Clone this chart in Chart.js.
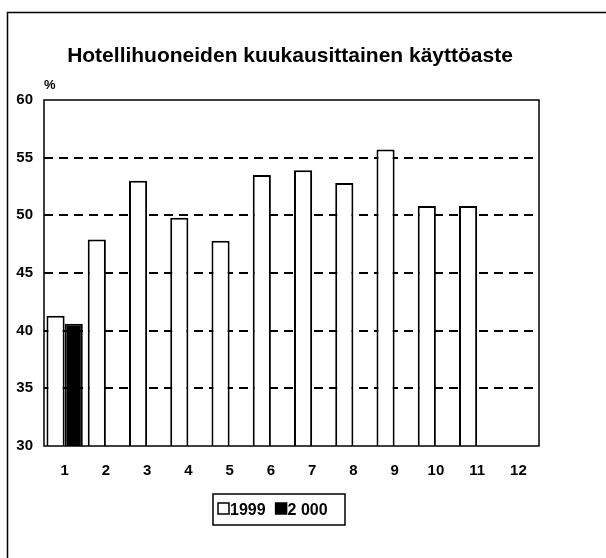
<!DOCTYPE html>
<html>
<head>
<meta charset="utf-8">
<script src="https://cdn.jsdelivr.net/npm/chart.js@4"></script>
<style>
  body { margin: 0; background: #fff; }
</style>
</head>
<body>
<canvas id="myChart" width="606" height="558"></canvas>
<script>
// months 1..12, occupancy rate in percent
const months = ['1', '2', '3', '4', '5', '6', '7', '8', '9', '10', '11', '12'];
const values1999 = [41.3, 47.9, 53.0, 49.8, 47.8, 53.5, 53.9, 52.8, 55.7, 50.8, 50.8, null];
const values2000 = [40.6, null, null, null, null, null, null, null, null, null, null, null];
const seriesLabels = ['1999', '2 000'];
const yTicks = [30, 35, 40, 45, 50, 55, 60];

const titleText = 'Hotellihuoneiden kuukausittainen käyttöaste';
const fontFamily = '"Liberation Sans", Arial, sans-serif';

// frame, title, % label and the little boxed legend
const decorations = {
    id: 'decorations',
    afterDraw(chart) {
        const ctx = chart.ctx;
        const area = chart.chartArea;
        ctx.save();

        // outer border of the picture
        ctx.strokeStyle = '#000';
        ctx.lineWidth = 1.5;
        ctx.strokeRect(7.5, 12.5, 640, 600);

        // plot frame
        ctx.lineWidth = 1.5;
        ctx.strokeRect(area.left, area.top, area.right - area.left, area.bottom - area.top);

        ctx.fillStyle = '#000';
        ctx.font = 'bold 21px ' + fontFamily;
        ctx.textAlign = 'center';
        ctx.textBaseline = 'middle';
        ctx.fillText(titleText, 290, 56);

        ctx.font = 'bold 13px ' + fontFamily;
        ctx.textAlign = 'left';
        ctx.fillText('%', 44, 85);

        // legend
        const lx = 213, ly = 494, lw = 132, lh = 31;
        ctx.lineWidth = 1.5;
        ctx.strokeRect(lx, ly, lw, lh);
        ctx.font = 'bold 16px ' + fontFamily;
        let x = lx + 5;
        chart.data.datasets.forEach((ds, i) => {
            ctx.fillStyle = ds.backgroundColor;
            ctx.fillRect(x, ly + 9, 11, 11);
            ctx.strokeStyle = '#000';
            ctx.lineWidth = 1.5;
            ctx.strokeRect(x, ly + 9, 11, 11);
            ctx.fillStyle = '#000';
            ctx.textAlign = 'left';
            ctx.fillText(ds.label, x + 12, ly + lh / 2 + 1);
            x += 12 + ctx.measureText(ds.label).width + 10;
        });
        ctx.restore();
    }
};

const ctx = document.getElementById('myChart').getContext('2d');
const chart = new Chart(ctx, {
    type: 'bar',
    data: {
        labels: months,
        datasets: [{
            label: seriesLabels[0],
            data: values1999,
            backgroundColor: '#fff',
            borderColor: '#000',
            borderWidth: 2,
            borderSkipped: 'bottom'
        }, {
            label: seriesLabels[1],
            data: values2000,
            backgroundColor: '#000',
            borderColor: '#000',
            borderWidth: 2,
            borderSkipped: 'bottom'
        }]
    },
    options: {
        responsive: false,
        animation: false,
        categoryPercentage: 0.88,
        barPercentage: 1.0,
        layout: { padding: { left: 0, right: 67, top: 100, bottom: 72 } },
        plugins: {
            legend: { display: false },
            title: { display: false },
            tooltip: { enabled: false }
        },
        scales: {
            x: {
                grid: { display: false },
                border: { display: false },
                ticks: {
                    color: '#000',
                    padding: 8,
                    maxRotation: 0,
                    font: { family: fontFamily, size: 15, weight: 'bold' }
                },
                afterFit(scale) { scale.height = 40; }
            },
            y: {
                min: 30,
                max: 60,
                afterBuildTicks(scale) {
                    scale.ticks = yTicks.map(v => ({ value: v }));
                },
                grid: {
                    drawTicks: false,
                    lineWidth: 2,
                    color: c => (c.tick && (c.tick.value === 30 || c.tick.value === 60)) ? 'rgba(0,0,0,0)' : '#000'
                },
                border: { display: false, dash: [9, 6] },
                ticks: {
                    color: '#000',
                    padding: 11,
                    font: { family: fontFamily, size: 15, weight: 'bold' }
                },
                afterFit(scale) { scale.width = 44; }
            }
        }
    },
    plugins: [decorations]
});
</script>
</body>
</html>
